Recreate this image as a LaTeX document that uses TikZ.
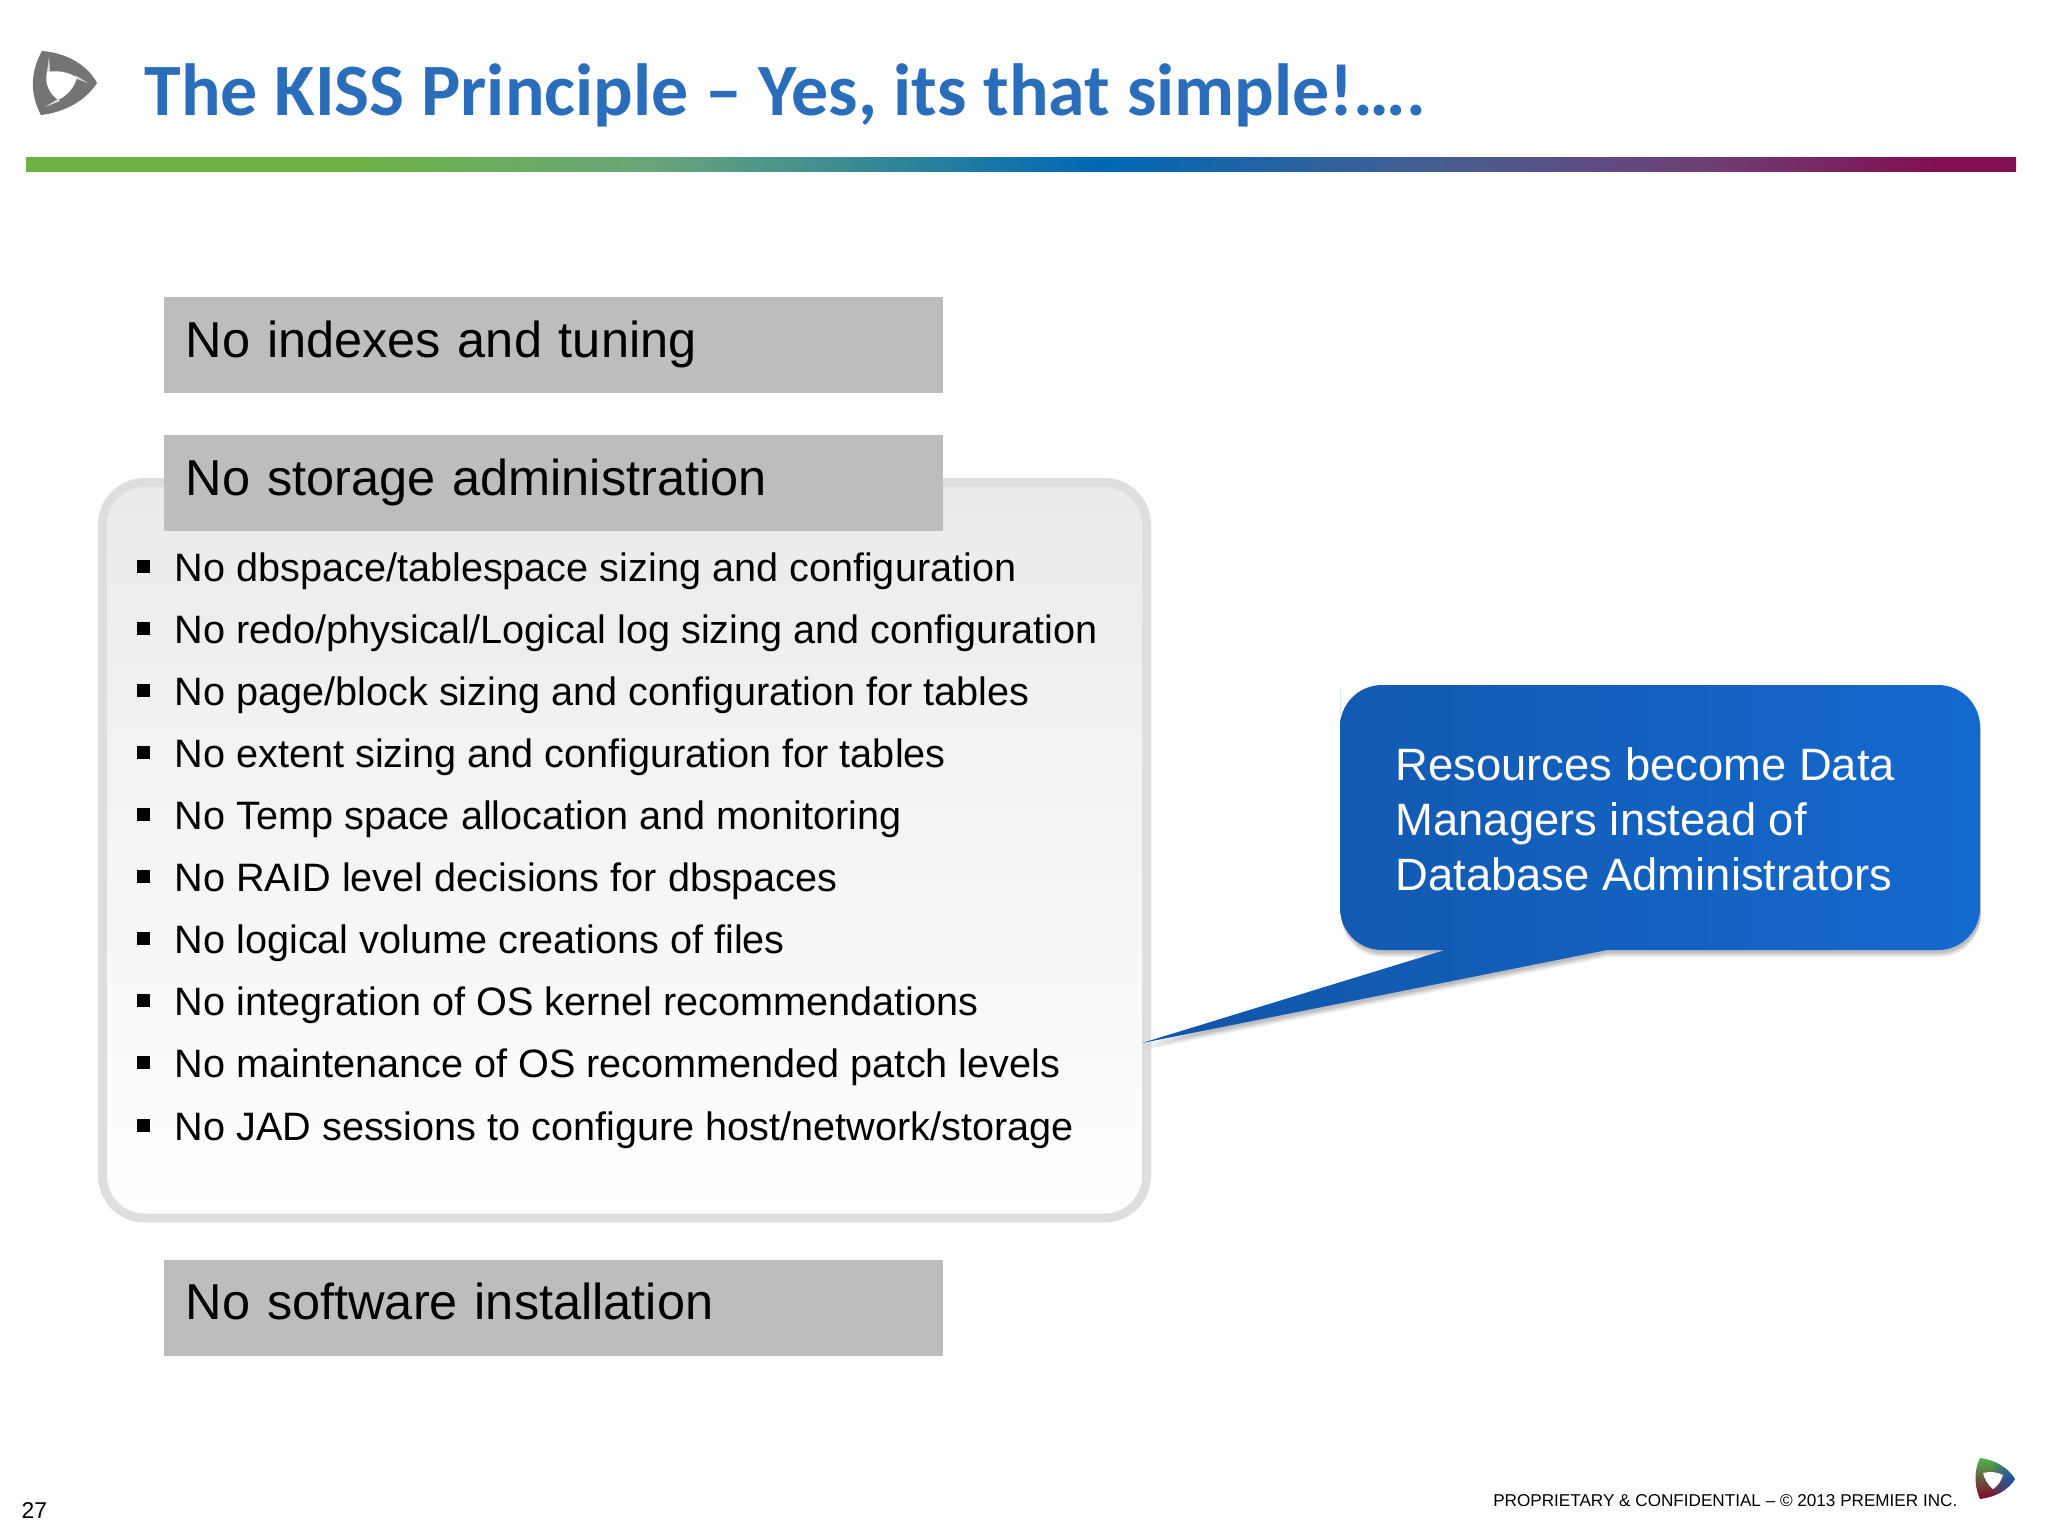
\documentclass[tikz,border=0pt]{standalone}
\usepackage{fontspec}
\setmainfont{Liberation Sans}
\newfontfamily\titlefont{Carlito}
\usetikzlibrary{positioning,fadings}
\definecolor{titleblue}{HTML}{2A6EBB}
\definecolor{barboxgray}{HTML}{BEBCBE}
\definecolor{panelline}{HTML}{DFDDE0}
\definecolor{calloutdark}{HTML}{1255A8}
\definecolor{calloutlight}{HTML}{1469CF}
\definecolor{logogray}{HTML}{747474}
\pgfdeclarehorizontalshading{barfade}{100bp}{
  rgb(0bp)=(0.43,0.70,0.27); rgb(33.2bp)=(0.43,0.70,0.27);
  rgb(40.7bp)=(0.41,0.65,0.47); rgb(51.9bp)=(0,0.41,0.71);
  rgb(60.4bp)=(0.27,0.37,0.57); rgb(67bp)=(0.43,0.25,0.47);
  rgb(72.9bp)=(0.51,0.06,0.33); rgb(100bp)=(0.51,0.06,0.33)}
\tikzset{
  headbox/.style={fill=barboxgray,anchor=north west,inner xsep=0.215cm,inner ysep=0pt,
    text width=7.35cm,align=left,text height=0.6cm,text depth=0.36cm,
    font=\fontsize{14.36}{17}\selectfont},
  bulletmark/.style={fill=black,inner sep=0pt,minimum size=0.13cm},
  bullettext/.style={anchor=base west,inner sep=0pt,font=\fontsize{11.27}{13}\selectfont},
}
\newcommand{\bulletrow}[3]{
  \node[bulletmark] (mark#1) at (143.5,#2-15) {};
  \node[bullettext] (row#1) at (174,#2) {#3};
}
\newcommand{\calloutshape}{
  (1340,730) [rounded corners=0.42cm] -- (1340,685) -- (1980,685) -- (1980,950)
  [sharp corners] -- (1607,950) -- (1142,1043) -- (1445,950)
  [rounded corners=0.42cm] -- (1340,950) -- (1340,730) -- cycle
}
\begin{document}
\begin{tikzpicture}[x=0.01cm,y=-0.01cm]
\useasboundingbox (0,0) rectangle (2048,1536);
\fill[white] (0,0) rectangle (2048,1536);
% top logo
\fill[logogray] (42,51) .. controls (68,53) and (88,66) .. (97,83)
  .. controls (86,100) and (66,112) .. (41,115)
  .. controls (30,95) and (30,72) .. cycle;
\fill[white] (47,72) .. controls (57,70) and (70,72) .. (77,78)
  .. controls (74,88) and (67,96) .. (58,100)
  .. controls (50,94) and (44,84) .. cycle;
\fill[white!75!logogray] (49,57) -- (47,72) -- (50,72) -- cycle;
\fill[white!75!logogray] (75,75) -- (88,83) -- (77,79) -- cycle;
\fill[white!75!logogray] (58,99) -- (45,107) -- (60,101) -- cycle;
% title and bar
\node[anchor=base west,inner sep=0pt,text=titleblue,font=\titlefont\bfseries\fontsize{21}{26}\selectfont] (title) at (144,115.5)
  {The KISS Principle – Yes, its that simple!….};
\shade[shading=barfade] (26,157) rectangle (2016,171);
% panel
\shade[draw=panelline,line width=0.09cm,rounded corners=0.42cm,top color=black!8,bottom color=white] (102.5,482.5) rectangle (1146.5,1218);
% header boxes
\node[headbox] (indexes) at (163.5,296.5) {No indexes and tuning};
\node[headbox] (storage) at (163.5,434.5) {No storage administration};
\node[headbox] (software) at (163.5,1259) {No software installation};
% bullets
\bulletrow{1}{581}{No dbspace/tablespace sizing and configuration}
\bulletrow{2}{643}{No redo/physical/Logical log sizing and configuration}
\bulletrow{3}{705}{No page/block sizing and configuration for tables}
\bulletrow{4}{767}{No extent sizing and configuration for tables}
\bulletrow{5}{829}{No Temp space allocation and monitoring}
\bulletrow{6}{891.5}{No RAID level decisions for dbspaces}
\bulletrow{7}{953.5}{No logical volume creations of files}
\bulletrow{8}{1015.5}{No integration of OS kernel recommendations}
\bulletrow{9}{1077.5}{No maintenance of OS recommended patch levels}
\bulletrow{10}{1140}{No JAD sessions to configure host/network/storage}
% callout
\foreach \d in {7,5.5,4,2.5} {
  \fill[black,opacity=0.07,shift={(1,\d)}] \calloutshape;
}
\shade[left color=calloutdark,right color=calloutlight] \calloutshape;
\node[anchor=north west,inner sep=0pt,text=white,align=left,font=\fontsize{12.9}{15.56}\selectfont] (resources) at (1395,747)
  {Resources become Data\\Managers instead of\\Database Administrators};
% footer
\node[anchor=base east,inner sep=0pt,font=\fontsize{4.87}{6}\selectfont] (footer) at (1958,1506)
  {PROPRIETARY \& CONFIDENTIAL – © 2013 PREMIER INC.};
\node[anchor=base west,inner sep=0pt,font=\fontsize{6.5}{8}\selectfont] (pageno) at (21,1518) {27};
% footer logo
\begin{scope}
  \clip (1980,1458) .. controls (1996,1460) and (2008,1468) .. (2015,1479)
    .. controls (2008,1490) and (1996,1497) .. (1980,1499)
    .. controls (1974,1486) and (1974,1470) .. cycle;
  \shade[top color=green!60!black!70!white,bottom color=purple!70!black] (1970,1458) rectangle (2020,1499);
  \fill[blue!60!cyan!80!black,path fading=west] (1990,1455) rectangle (2020,1500);
\end{scope}
\fill[white] (1983,1473) .. controls (1990,1471) and (1997,1472) .. (2003,1475)
  .. controls (2001,1481) and (1998,1486) .. (1993,1489)
  .. controls (1988,1485) and (1985,1480) .. cycle;
\end{tikzpicture}
\end{document}
